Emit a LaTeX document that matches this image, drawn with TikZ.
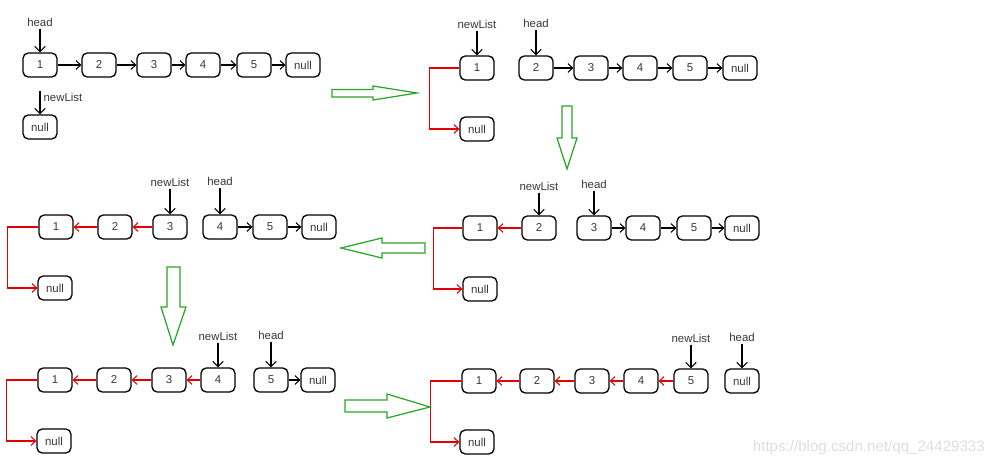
\documentclass[tikz,border=0pt]{standalone}
\usepackage{fontspec}
\setmainfont{Liberation Sans}
\usetikzlibrary{arrows.meta}

\definecolor{lred}{RGB}{228,0,0}
\definecolor{lgreen}{RGB}{40,165,40}
\definecolor{ltext}{RGB}{55,55,55}

\begin{document}
\begin{tikzpicture}[x=0.02cm, y=-0.02cm, every node/.style={font=\fontsize{6.5}{7}\selectfont, text=ltext}]
    \tikzstyle{box}=[draw, line width=0.75pt, rounded corners=3pt, minimum width=0.68cm, minimum height=0.48cm, inner sep=0pt]
    \tikzstyle{lbl}=[inner sep=1.2pt]
    \tikzstyle{nxt}=[line width=0.6pt, -{Straight Barb[length=2.6pt,width=5pt]}]
    \tikzstyle{rev}=[nxt, draw=lred]
    \tikzstyle{ptr}=[line width=0.6pt, -{Straight Barb[length=3pt,width=6pt]}]
    \tikzstyle{garr}=[draw=lgreen, line width=0.7pt, line join=miter]

    \useasboundingbox (0,0) rectangle (1000,466);

    % step 0
    \foreach \n/\x in {1/40, 2/99, 3/154, 4/203, 5/254, null/303}
        \node[box] (a\n) at (\x,65) {\n};
    \node[box] (anew) at (40,127) {null};
    \foreach \i/\j in {1/2, 2/3, 3/4, 4/5, 5/null}
        \draw[nxt] (a\i) -- (a\j);
    \node[lbl] (ahead) at (40,22) {head};
    \draw[ptr] (ahead) -- (a1);
    \node[lbl] (alist) at (63,97) {newList};
    \coordinate (alistp) at (40,91);
    \draw[ptr] (alistp) -- (anew);

    % step 1
    \foreach \n/\x in {1/477, 2/536, 3/591, 4/640, 5/690, null/740}
        \node[box] (b\n) at (\x,68) {\n};
    \node[box] (bnew) at (477,129) {null};
    \foreach \i/\j in {2/3, 3/4, 4/5, 5/null}
        \draw[nxt] (b\i) -- (b\j);
    \draw[rev] (b1.west) -- ++(-30,0) |- (bnew.west);
    \node[lbl] (blist) at (477,24) {newList};
    \draw[ptr] (blist) -- (b1);
    \node[lbl] (bhead) at (536,23) {head};
    \draw[ptr] (bhead) -- (b2);

    % step 2
    \foreach \n/\x in {1/480, 2/539, 3/594, 4/643, 5/694, null/742}
        \node[box] (c\n) at (\x,228) {\n};
    \node[box] (cnew) at (480,289) {null};
    \foreach \i/\j in {3/4, 4/5, 5/null}
        \draw[nxt] (c\i) -- (c\j);
    \draw[rev] (c2) -- (c1);
    \draw[rev] (c1.west) -- ++(-29,0) |- (cnew.west);
    \node[lbl] (clist) at (539,186) {newList};
    \draw[ptr] (clist) -- (c2);
    \node[lbl] (chead) at (594,184) {head};
    \draw[ptr] (chead) -- (c3);

    % step 3
    \foreach \n/\x in {1/56, 2/115, 3/170, 4/220, 5/270, null/319}
        \node[box] (d\n) at (\x,227) {\n};
    \node[box] (dnew) at (55,288) {null};
    \foreach \i/\j in {4/5, 5/null}
        \draw[nxt] (d\i) -- (d\j);
    \foreach \i/\j in {2/1, 3/2}
        \draw[rev] (d\i) -- (d\j);
    \draw[rev] (d1.west) -- ++(-31,0) |- (dnew.west);
    \node[lbl] (dlist) at (170,182) {newList};
    \draw[ptr] (dlist) -- (d3);
    \node[lbl] (dhead) at (220,181) {head};
    \draw[ptr] (dhead) -- (d4);

    % step 4
    \foreach \n/\x in {1/55, 2/114, 3/169, 4/218, 5/271, null/318}
        \node[box] (e\n) at (\x,380) {\n};
    \node[box] (enew) at (54,441) {null};
    \draw[nxt] (e5) -- (enull);
    \foreach \i/\j in {2/1, 3/2, 4/3}
        \draw[rev] (e\i) -- (e\j);
    \draw[rev] (e1.west) -- ++(-31,0) |- (enew.west);
    \node[lbl] (elist) at (218,336) {newList};
    \draw[ptr] (elist) -- (e4);
    \node[lbl] (ehead) at (271,335) {head};
    \draw[ptr] (ehead) -- (e5);

    % step 5
    \foreach \n/\x in {1/479, 2/537, 3/592, 4/641, 5/691, null/742}
        \node[box] (f\n) at (\x,381) {\n};
    \node[box] (fnew) at (477,442) {null};
    \foreach \i/\j in {2/1, 3/2, 4/3, 5/4}
        \draw[rev] (f\i) -- (f\j);
    \draw[rev] (f1.west) -- ++(-31,0) |- (fnew.west);
    \node[lbl] (flist) at (691,338) {newList};
    \draw[ptr] (flist) -- (f5);
    \node[lbl] (fhead) at (742,337) {head};
    \draw[ptr] (fhead) -- (fnull);

    % green block arrows between the steps
    \draw[garr] (332,89.5) -- (373,89.5) -- (373,86) -- (417,93) -- (373,100) -- (373,97) -- (332,97) -- cycle;
    \draw[garr] (562,106) -- (572,106) -- (572,138) -- (577,138) -- (567,169) -- (557,138) -- (562,138) -- cycle;
    \draw[garr] (425,243) -- (382,243) -- (382,238) -- (341,248) -- (382,258) -- (382,253) -- (425,253) -- cycle;
    \draw[garr] (167,267) -- (180,267) -- (180,307) -- (186,307) -- (173,345) -- (161,307) -- (167,307) -- cycle;
    \draw[garr] (345,400) -- (387,400) -- (387,394) -- (430,407) -- (387,418) -- (387,412) -- (345,412) -- cycle;

    \node[anchor=east, text=black!13, font=\fontsize{8.6}{10}\selectfont] (mark) at (991,448) {https://blog.csdn.net/qq\_24429333};

\end{tikzpicture}
\end{document}
